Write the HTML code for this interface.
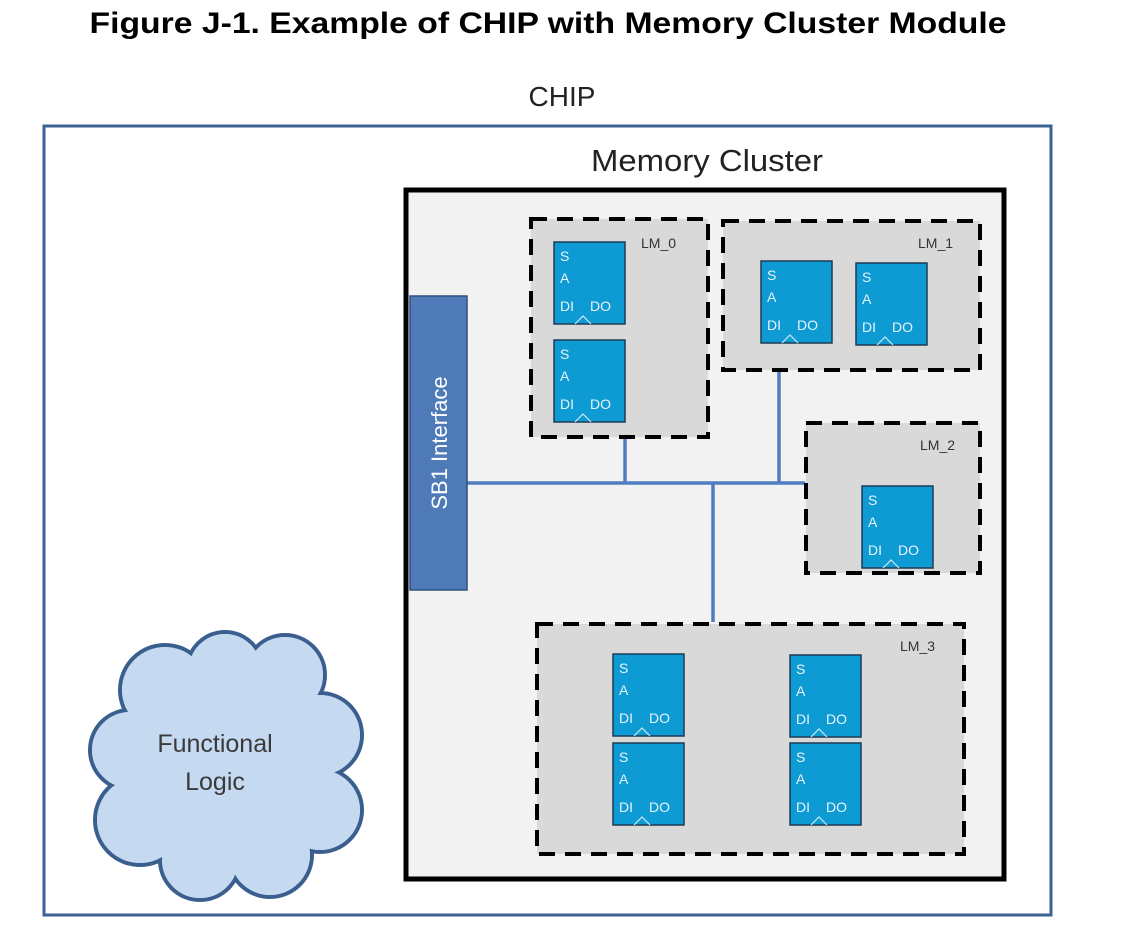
<!DOCTYPE html>
<html><head><meta charset="utf-8"><style>
html,body{margin:0;padding:0;background:#fff;}
svg{display:block;}
text{font-family:"Liberation Sans",sans-serif;}
</style></head><body>
<svg width="1147" height="944" viewBox="0 0 1147 944" xmlns="http://www.w3.org/2000/svg">
<defs>
<g id="mem">
<rect x="0" y="0" width="71" height="82" fill="#0e9ad2" stroke="#1d3a55" stroke-width="1.5"/>
<text x="6" y="19" font-size="14" fill="#e8f4fb">S</text>
<text x="6" y="41" font-size="14" fill="#e8f4fb">A</text>
<text x="6" y="69" font-size="14" fill="#e8f4fb">DI</text>
<text x="36" y="69" font-size="14" fill="#e8f4fb">DO</text>
<polyline points="21,82 29,74 37,82" fill="none" stroke="#cde9f6" stroke-width="1.2"/>
</g>
</defs>
<text x="548" y="33" text-anchor="middle" font-size="30" font-weight="bold" fill="#000" textLength="917" lengthAdjust="spacingAndGlyphs">Figure J-1. Example of CHIP with Memory Cluster Module</text>
<text x="562" y="106" text-anchor="middle" font-size="28" fill="#222">CHIP</text>
<rect x="44" y="126" width="1007" height="789" fill="#fff" stroke="#3c6394" stroke-width="3"/>
<text x="707" y="171" text-anchor="middle" font-size="31" fill="#222" textLength="232" lengthAdjust="spacingAndGlyphs">Memory Cluster</text>
<rect x="406" y="190" width="598" height="689" fill="#f2f2f2" stroke="#000" stroke-width="5"/>
<g stroke="#4f7dc0" stroke-width="3.5">
<line x1="467" y1="483" x2="805" y2="483"/>
<line x1="625" y1="437" x2="625" y2="483"/>
<line x1="779" y1="372" x2="779" y2="483"/>
<line x1="713" y1="483" x2="713" y2="622"/>
</g>
<rect x="410" y="296" width="57" height="294" fill="#4f7ab8" stroke="#2e4f7d" stroke-width="1.5"/>
<text transform="translate(447,443) rotate(-90)" text-anchor="middle" font-size="22" fill="#fff">SB1 Interface</text>
<g fill="#d9d9d9" stroke="#000" stroke-width="4" stroke-dasharray="16,10">
<rect x="531" y="219" width="177" height="218"/>
<rect x="723" y="221" width="257" height="149"/>
<rect x="806" y="423" width="174" height="150"/>
<rect x="537" y="624" width="427" height="230"/>
</g>
<g font-size="14" fill="#333">
<text x="641" y="248">LM_0</text>
<text x="918" y="248">LM_1</text>
<text x="920" y="450">LM_2</text>
<text x="900" y="651">LM_3</text>
</g>
<use href="#mem" x="554" y="242"/>
<use href="#mem" x="554" y="340"/>
<use href="#mem" x="761" y="261"/>
<use href="#mem" x="856" y="263"/>
<use href="#mem" x="862" y="486"/>
<use href="#mem" x="613" y="654"/>
<use href="#mem" x="613" y="743"/>
<use href="#mem" x="790" y="655"/>
<use href="#mem" x="790" y="743"/>
<g stroke="#3a5f8f" stroke-width="4" fill="#c5d9f1">
<circle cx="165" cy="690" r="45"/><circle cx="225" cy="670" r="38"/><circle cx="285" cy="675" r="40"/>
<circle cx="320" cy="735" r="42"/><circle cx="320" cy="810" r="42"/><circle cx="270" cy="855" r="42"/>
<circle cx="200" cy="860" r="40"/><circle cx="140" cy="820" r="45"/><circle cx="130" cy="750" r="40"/>
</g>
<g fill="#c5d9f1">
<circle cx="165" cy="690" r="43"/><circle cx="225" cy="670" r="36"/><circle cx="285" cy="675" r="38"/>
<circle cx="320" cy="735" r="40"/><circle cx="320" cy="810" r="40"/><circle cx="270" cy="855" r="40"/>
<circle cx="200" cy="860" r="38"/><circle cx="140" cy="820" r="43"/><circle cx="130" cy="750" r="38"/>
<ellipse cx="228" cy="765" rx="105" ry="100"/>
</g>
<text x="215" y="752" text-anchor="middle" font-size="25" fill="#3a3a3a">Functional</text>
<text x="215" y="790" text-anchor="middle" font-size="25" fill="#3a3a3a">Logic</text>
</svg>
</body></html>
